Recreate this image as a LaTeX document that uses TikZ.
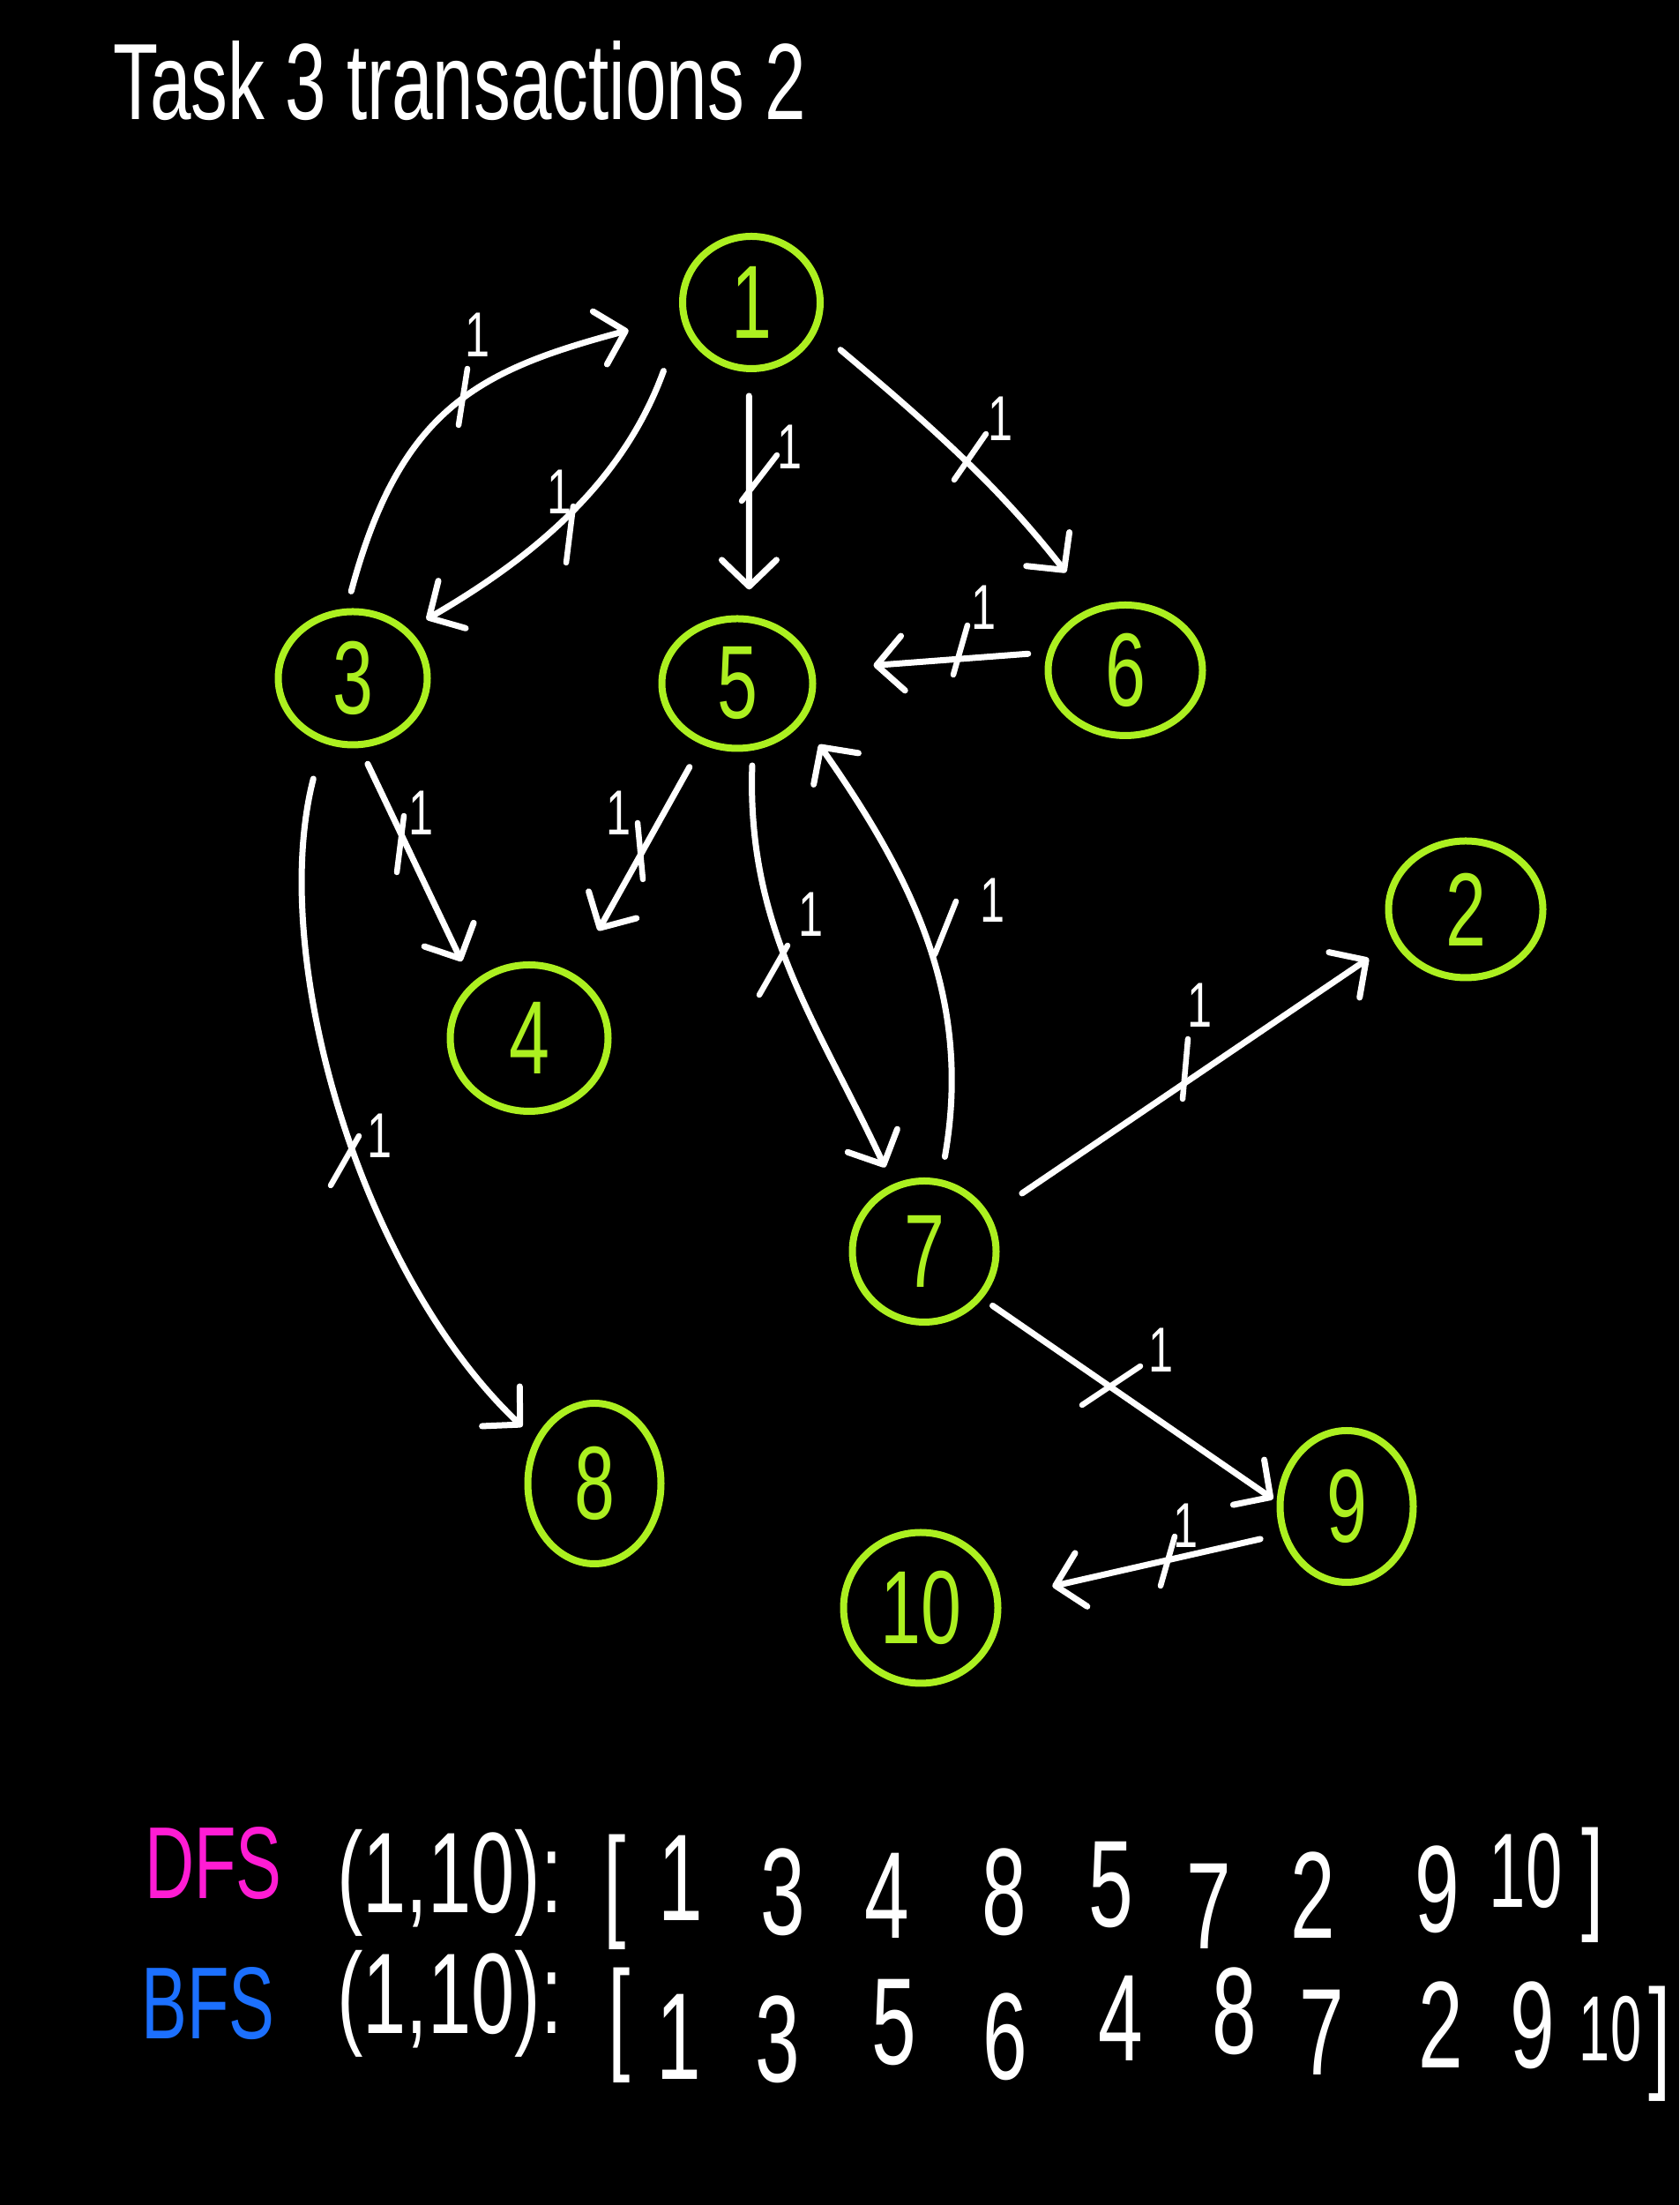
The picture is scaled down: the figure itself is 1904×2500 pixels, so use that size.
\documentclass[tikz,border=0pt]{standalone}
\usepackage{fontspec}
\usepackage{graphicx}
\setmainfont{Liberation Sans}
\usetikzlibrary{arrows.meta,shapes.geometric}
\definecolor{nodegreen}{RGB}{172,240,32}
\definecolor{dfscol}{RGB}{255,28,212}
\definecolor{bfscol}{RGB}{28,112,255}
\newcommand{\hwtext}[2][0.7]{\scalebox{#1}[1]{#2}}
\begin{document}
\begin{tikzpicture}[x=1pt,y=1pt,
  gnode/.style={draw=nodegreen,line width=8pt,ellipse,inner sep=0pt,
    minimum width=166pt,minimum height=160pt,text=nodegreen,
    font=\fontsize{118}{118}\selectfont},
  edge/.style={draw=white,line width=7pt,line cap=round,
    -{Straight Barb[length=30pt,width=62pt,round]}},
  tick/.style={draw=white,line width=6.5pt,line cap=round},
  wlab/.style={text=white,inner sep=0pt,font=\fontsize{72}{72}\selectfont},
  titletxt/.style={text=white,inner sep=0pt,font=\fontsize{123}{123}\selectfont},
  listtxt/.style={text=white,inner sep=0pt,font=\fontsize{140}{140}\selectfont},
  argtxt/.style={text=white,inner sep=0pt,font=\fontsize{130}{130}\selectfont},
  algo/.style={inner sep=0pt,font=\fontsize{116}{116}\selectfont},
]
\fill[black] (0,0) rectangle (1904,2500);
\useasboundingbox (0,0) rectangle (1904,2500);

% title
\node[titletxt,anchor=base west] (title) at (128,2364) {\hwtext[0.68]{Task 3 transactions 2}};

% graph nodes
\node[gnode,minimum width=156pt,minimum height=150pt] (n1) at (852,2157) {\hwtext{1}};
\node[gnode,minimum width=169pt,minimum height=151pt] (n3) at (400,1731) {\hwtext{3}};
\node[gnode,minimum width=171pt,minimum height=147pt] (n5) at (836,1725) {\hwtext{5}};
\node[gnode,minimum width=175pt,minimum height=148pt] (n6) at (1276,1740) {\hwtext{6}};
\node[gnode,minimum width=175pt,minimum height=155pt] (n2) at (1662,1469) {\hwtext{2}};
\node[gnode,minimum width=179pt,minimum height=166pt] (n4) at (600,1323) {\hwtext{4}};
\node[gnode,minimum width=163pt,minimum height=160pt] (n7) at (1048,1081) {\hwtext{7}};
\node[gnode,minimum width=151pt,minimum height=182pt] (n8) at (674,818) {\hwtext{8}};
\node[gnode,minimum width=151pt,minimum height=172pt] (n9) at (1527,792) {\hwtext{9}};
\node[gnode,minimum width=175pt,minimum height=171pt] (n10) at (1044,677) {\hwtext{10}};

% edges
\draw[edge,shorten <=20pt,shorten >=61pt] (n3.95) to[out=75,in=195,looseness=1.2] (n1.191);
\draw[edge,shorten <=60pt,shorten >=23pt] (n1.195) to[out=250,in=30] (n3.41);
\draw[edge,shorten <=27pt,shorten >=30pt] (n1.268) -- (n5.80);
\draw[edge,shorten <=34pt,shorten >=50pt] (n1.337) to[out=-40,in=128] (n6.117);
\draw[edge,shorten <=22pt,shorten >=67pt] (n6.167) -- (n5.10);
\draw[edge,shorten <=20pt,shorten >=27pt] (n3.276) -- (n4.136);
\draw[edge,shorten <=29pt,shorten >=56pt] (n5.240) -- (n4.55);
\draw[edge,shorten <=42pt,shorten >=20pt] (n3.245) .. controls +(-62,-240) and +(-200,190) .. (n8.143);
\draw[edge,shorten <=17pt,shorten >=21pt] (n5.283) to[out=268,in=115] (n7.115);
\draw[edge,shorten <=26pt,shorten >=32pt] (n7.77) to[out=80,in=-55] (n5.330);
\draw[edge,shorten <=44pt,shorten >=34pt] (n7.29) -- (n2.204);
\draw[edge,shorten <=14pt,shorten >=5pt] (n7.321) -- (n9.176);
\draw[edge,shorten <=24pt,shorten >=60pt] (n9.203) -- (n10.7);

% weight ticks
\draw[tick] (525,2050) +(-5,-32) -- +(5,32);
\draw[tick] (646,1894) +(-4,-32) -- +(4,32);
\draw[tick] (861,1958) +(-20,-26) -- +(20,26);
\draw[tick] (1100,1982) +(-18,-26) -- +(18,26);
\draw[tick] (1089,1763) +(-8,-28) -- +(8,28);
\draw[tick] (454,1543) +(-4,-32) -- +(4,32);
\draw[tick] (726,1535) +(3,-32) -- +(-3,32);
\draw[tick] (391,1184) +(-16,-28) -- +(16,28);
\draw[tick] (877,1400) +(-16,-28) -- +(16,28);
\draw[tick] (1072,1448) +(-12,-30) -- +(12,30);
\draw[tick] (1344,1288) +(-3,-34) -- +(3,34);
\draw[tick] (1260,929) +(-33,-22) -- +(33,22);
\draw[tick] (1324,730) +(-8,-28) -- +(8,28);

% weight labels
\node[wlab] (w31) at (542,2120) {\hwtext{1}};
\node[wlab] (w13) at (635,1942) {\hwtext{1}};
\node[wlab] (w15) at (896,1993) {\hwtext{1}};
\node[wlab] (w16) at (1135,2025) {\hwtext{1}};
\node[wlab] (w65) at (1116,1811) {\hwtext{1}};
\node[wlab] (w34) at (478,1578) {\hwtext{1}};
\node[wlab] (w54) at (702,1578) {\hwtext{1}};
\node[wlab] (w38) at (431,1212) {\hwtext{1}};
\node[wlab] (w57) at (920,1463) {\hwtext{1}};
\node[wlab] (w75) at (1126,1479) {\hwtext{1}};
\node[wlab] (w72) at (1360,1360) {\hwtext{1}};
\node[wlab] (w79) at (1316,969) {\hwtext{1}};
\node[wlab] (w910) at (1344,770) {\hwtext{1}};

% DFS row
\node[algo,text=dfscol,anchor=base west] (dfs) at (164,347) {\hwtext[0.67]{DFS}};
\node[argtxt] (dfsarg) at (510,365) {\hwtext[0.68]{(1,10):}};
\node[listtxt] (d0) at (697,355) {\hwtext[0.65]{[}};
\node[listtxt] (d1) at (772,371) {\hwtext[0.65]{1}};
\node[listtxt] (d2) at (888,355) {\hwtext[0.65]{3}};
\node[listtxt] (d3) at (1006,351) {\hwtext[0.65]{4}};
\node[listtxt] (d4) at (1139,355) {\hwtext[0.65]{8}};
\node[listtxt] (d5) at (1260,363) {\hwtext[0.65]{5}};
\node[listtxt] (d6) at (1371,339) {\hwtext[0.65]{7}};
\node[listtxt] (d7) at (1489,351) {\hwtext[0.65]{2}};
\node[listtxt] (d8) at (1630,358) {\hwtext[0.65]{9}};
\node[listtxt,font=\fontsize{120}{120}\selectfont] (d9) at (1730,379) {\hwtext[0.62]{10}};
\node[listtxt] (d10) at (1806,363) {\hwtext[0.65]{]}};

% BFS row
\node[algo,text=bfscol,anchor=base west] (bfs) at (160,188) {\hwtext[0.67]{BFS}};
\node[argtxt] (bfsarg) at (510,228) {\hwtext[0.68]{(1,10):}};
\node[listtxt] (b0) at (702,204) {\hwtext[0.65]{[}};
\node[listtxt] (b1) at (770,191) {\hwtext[0.65]{1}};
\node[listtxt] (b2) at (882,188) {\hwtext[0.65]{3}};
\node[listtxt] (b3) at (1014,207) {\hwtext[0.65]{5}};
\node[listtxt] (b4) at (1140,191) {\hwtext[0.65]{6}};
\node[listtxt] (b5) at (1271,212) {\hwtext[0.65]{4}};
\node[listtxt] (b6) at (1400,220) {\hwtext[0.65]{8}};
\node[listtxt] (b7) at (1499,196) {\hwtext[0.65]{7}};
\node[listtxt] (b8) at (1634,204) {\hwtext[0.65]{2}};
\node[listtxt] (b9) at (1738,204) {\hwtext[0.65]{9}};
\node[listtxt,font=\fontsize{105}{105}\selectfont] (b10) at (1826,200) {\hwtext[0.6]{10}};
\node[listtxt] (b11) at (1882,183) {\hwtext[0.65]{]}};
\end{tikzpicture}
\end{document}
